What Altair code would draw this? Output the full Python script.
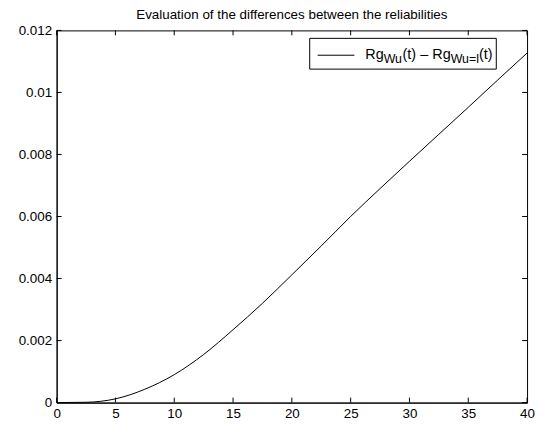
import altair as alt
import pandas as pd

# ---- data ----
t_values = [0, 2.5, 5, 7.5, 10, 12.5, 15, 17.5, 20, 22.5, 25, 27.5, 30, 32.5, 35, 37.5, 40]
diff_values = [0.0, 0.00001, 0.00012, 0.00043, 0.00090, 0.00155, 0.00235, 0.00320,
               0.00412, 0.00505, 0.00600, 0.00690, 0.00778, 0.00865, 0.00952, 0.01040, 0.01127]
x_ticks = [0, 5, 10, 15, 20, 25, 30, 35, 40]
y_ticks = [0, 0.002, 0.004, 0.006, 0.008, 0.010, 0.012]
title_text = "Evaluation of the differences between the reliabilities"
legend_main = ["Rg", "(t)", "\u2013", "Rg", "(t)"]
legend_sub = ["Wu", "Wu=l"]

FONT = "Liberation Sans"
W, H = 474, 375

df = pd.DataFrame({"t": t_values, "d": diff_values})
xt = pd.DataFrame({"v": x_ticks})
yt = pd.DataFrame({"v": y_ticks})

xscale = alt.Scale(domain=[0, 40], nice=False, zero=False)
yscale = alt.Scale(domain=[0, 0.012], nice=False, zero=False)

xaxis = alt.Axis(values=x_ticks, title=None, ticks=False, labelPadding=4,
                 labelFontSize=13.5, labelFont=FONT, labelColor="black",
                 domainColor="black", grid=False, labelFlush=False)
yaxis = alt.Axis(values=y_ticks, title=None, ticks=False, labelPadding=5,
                 format=".3~f", labelFontSize=13.5, labelFont=FONT,
                 labelColor="black", domainColor="black", grid=False,
                 labelFlush=False)

line = alt.Chart(df).mark_line(color="black", strokeWidth=1, interpolate="monotone").encode(
    x=alt.X("t:Q", scale=xscale, axis=xaxis),
    y=alt.Y("d:Q", scale=yscale, axis=yaxis),
)

tick_len = 5
xt_bottom = alt.Chart(xt).mark_rule(color="black", strokeWidth=1).encode(
    x=alt.X("v:Q", scale=xscale, axis=xaxis), y=alt.value(H), y2=alt.value(H - tick_len))
xt_top = alt.Chart(xt).mark_rule(color="black", strokeWidth=1).encode(
    x=alt.X("v:Q", scale=xscale, axis=xaxis), y=alt.value(0), y2=alt.value(tick_len))
yt_left = alt.Chart(yt).mark_rule(color="black", strokeWidth=1).encode(
    y=alt.Y("v:Q", scale=yscale, axis=yaxis), x=alt.value(0), x2=alt.value(tick_len))
yt_right = alt.Chart(yt).mark_rule(color="black", strokeWidth=1).encode(
    y=alt.Y("v:Q", scale=yscale, axis=yaxis), x=alt.value(W), x2=alt.value(W - tick_len))

one = alt.Data(values=[{}])

legend_box = alt.Chart(one).mark_rect(fill="white", stroke="black", strokeWidth=1).encode(
    x=alt.value(255), x2=alt.value(443), y=alt.value(8), y2=alt.value(39))
legend_line = alt.Chart(one).mark_rule(color="black", strokeWidth=1).encode(
    x=alt.value(263), x2=alt.value(300), y=alt.value(25))

main_x = [311, 348.5, 366.5, 378.5, 425.5]
sub_x = [329.5, 397]
texts = []
for s, xx in zip(legend_main, main_x):
    texts.append(alt.Chart(one).mark_text(align="left", baseline="alphabetic", fontSize=14.5,
                                          font=FONT, color="black").encode(
        x=alt.value(xx), y=alt.value(29), text=alt.value(s)))
for s, xx in zip(legend_sub, sub_x):
    texts.append(alt.Chart(one).mark_text(align="left", baseline="alphabetic", fontSize=12.5,
                                          font=FONT, color="black").encode(
        x=alt.value(xx), y=alt.value(33), text=alt.value(s)))

chart = alt.layer(line, xt_bottom, xt_top, yt_left, yt_right, legend_box, legend_line, *texts).properties(
    width=W, height=H,
    title=alt.TitleParams(title_text, fontSize=13.5, font=FONT, fontWeight="normal",
                          color="black", offset=2),
    padding={"left": 49, "top": 21, "right": 8, "bottom": 20},
    autosize=alt.AutoSizeParams(type="none"),
).configure_view(stroke="black", strokeWidth=1)

chart.save("out.html", embed_options={"renderer": "svg", "actions": False})
